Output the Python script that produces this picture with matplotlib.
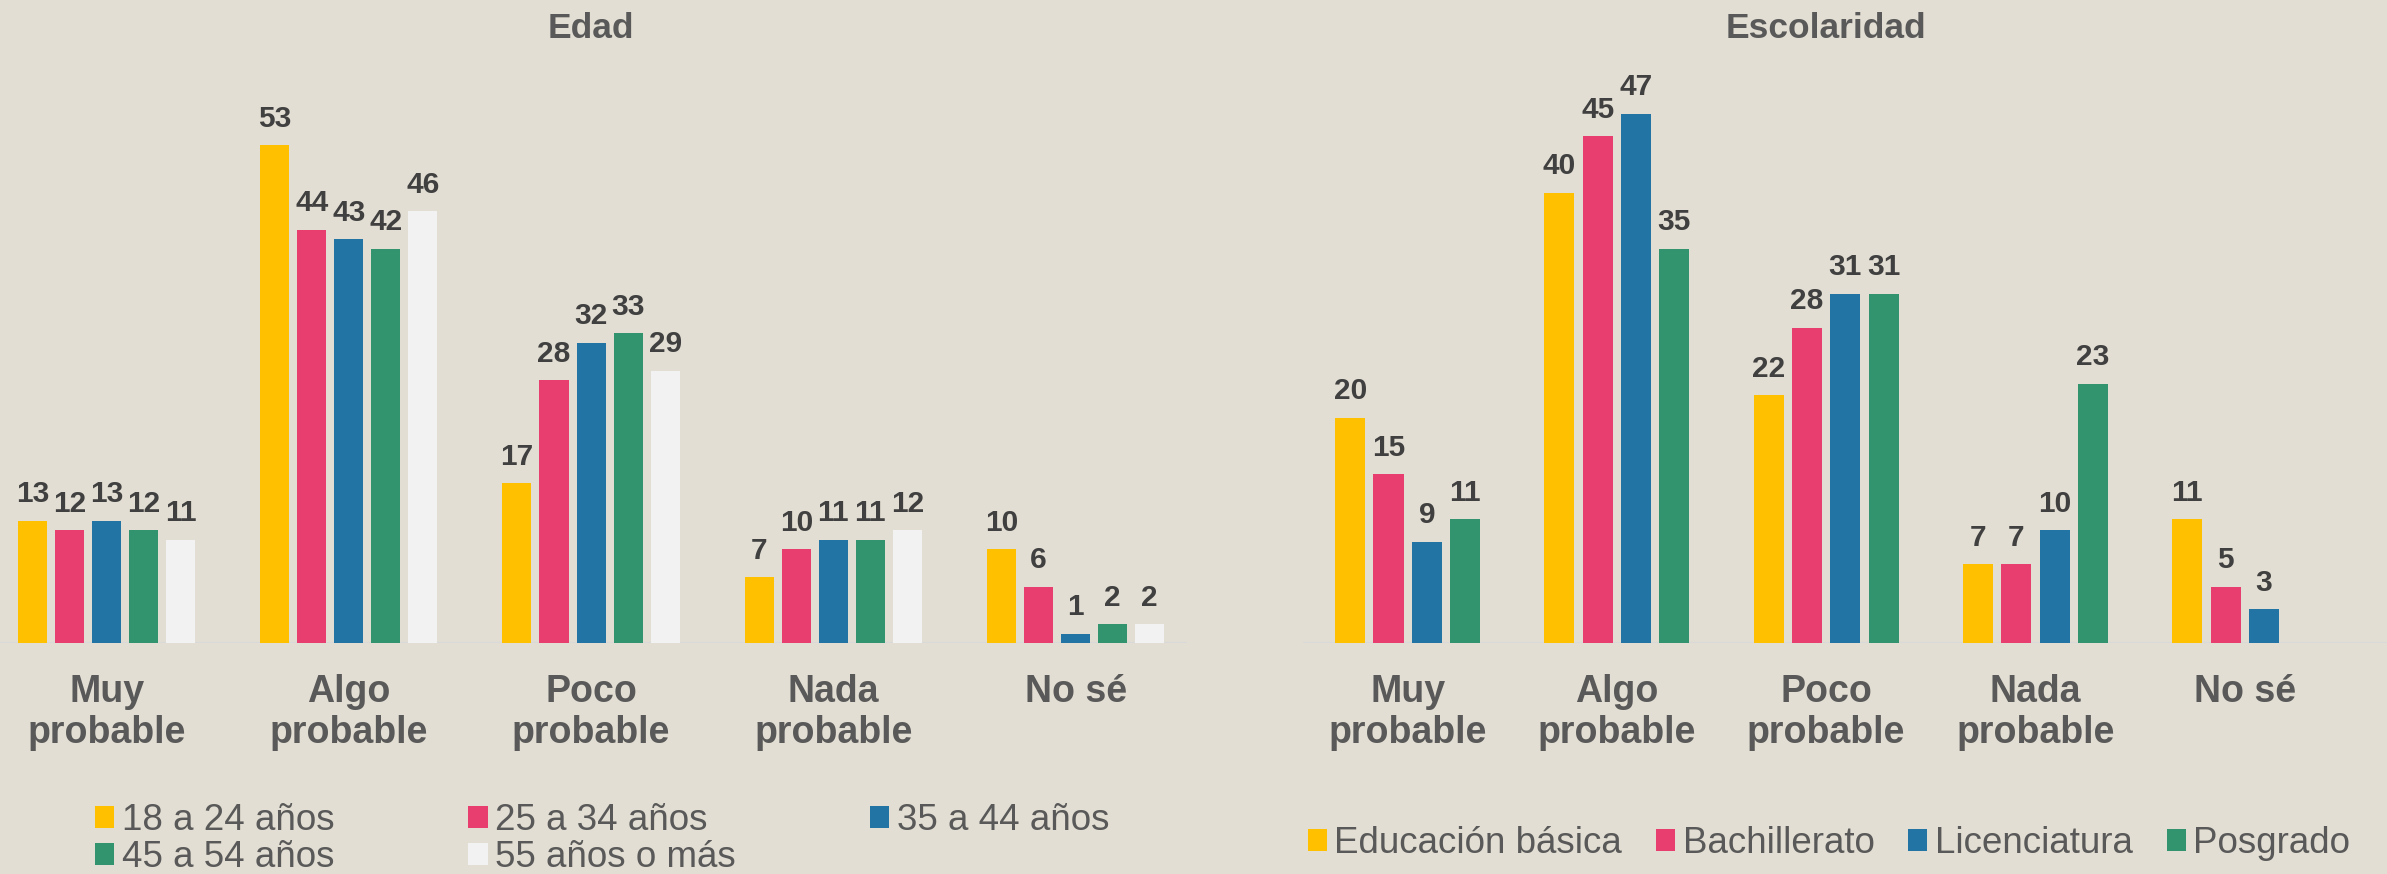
# Edad / Escolaridad - grouped bar charts
import numpy as np
from matplotlib import pyplot as plt

plt.rcParams['font.family'] = ['Liberation Sans', 'DejaVu Sans']

## data ########################################################
categorias = ["Muy\nprobable", "Algo\nprobable", "Poco\nprobable", "Nada\nprobable", "No sé"]

edad_nombres = ["18 a 24 años", "25 a 34 años", "35 a 44 años", "45 a 54 años", "55 años o más"]
edad_18_24 = [13, 53, 17, 7, 10]
edad_25_34 = [12, 44, 28, 10, 6]
edad_35_44 = [13, 43, 32, 11, 1]
edad_45_54 = [12, 42, 33, 11, 2]
edad_55_mas = [11, 46, 29, 12, 2]

esc_nombres = ["Educación básica", "Bachillerato", "Licenciatura", "Posgrado"]
esc_basica = [20, 40, 22, 7, 11]
esc_bachillerato = [15, 45, 28, 7, 5]
esc_licenciatura = [9, 47, 31, 10, 3]
esc_posgrado = [11, 35, 31, 23, 0]
################################################################

bg = '#e3ded3'
colores = ['#ffc000', '#e83d6f', '#2274a5', '#32936f', '#f2f2f2']
gris = '#595959'

W, H = 2387, 874
fig = plt.figure(figsize=(W / 100, H / 100), dpi=100, facecolor=bg)

base_y = 643  # baseline in pixels from top


def panel(ax, series, nombres, width, pitch, ymax, xlim, titulo):
    ax.set_facecolor(bg)
    x = np.arange(len(categorias))
    n = len(series)
    barras = []
    for i, (vals, nombre) in enumerate(zip(series, nombres)):
        pos = x + (i - (n - 1) / 2) * pitch
        b = ax.bar(pos, vals, width, color=colores[i], label=nombre, zorder=2)
        ax.bar_label(b, labels=[str(v) if v else '' for v in vals], padding=9,
                     fontsize=21.5, fontweight='bold', color='#404040')
        barras.append(b)
    ax.axhline(0, color='#d9d9d9', lw=1.6, zorder=1)
    ax.set_ylim(0, ymax)
    ax.set_xlim(*xlim)
    ax.set_xticks(x, categorias, fontsize=27, fontweight='bold', color=gris,
                  linespacing=1.2)
    ax.tick_params(axis='x', length=0, pad=22)
    ax.set_yticks([])
    for s in ax.spines.values():
        s.set_visible(False)
    ax.text(2, 1 - 38 / base_y, titulo, transform=ax.get_xaxis_transform(),
            ha='center', va='baseline', fontsize=25.5, fontweight='bold', color=gris)
    return barras


ax1 = fig.add_axes([0, 1 - base_y / H, 1187 / W, base_y / H])
ax2 = fig.add_axes([1303 / W, 1 - base_y / H, 1084 / W, base_y / H])

b1 = panel(ax1, [edad_18_24, edad_25_34, edad_35_44, edad_45_54, edad_55_mas],
           edad_nombres, 0.12, 0.153, 68.5, (-0.44, 4.46), 'Edad')
b2 = panel(ax2, [esc_basica, esc_bachillerato, esc_licenciatura, esc_posgrado],
           esc_nombres, 0.1435, 0.183, 57.1, (-0.50, 4.68), 'Escolaridad')

# legend order so that rows read left to right
orden = [0, 3, 1, 4, 2]
leg_kw = dict(loc='upper left', frameon=False, borderpad=0, borderaxespad=0,
              handlelength=0.52, handleheight=0.52, handletextpad=0.2,
              labelcolor=gris, prop={'size': 26.5})
fig.legend([b1[i] for i in orden], [edad_nombres[i] for i in orden], ncol=3,
           bbox_to_anchor=(95 / W, 1 - 803 / H), columnspacing=3.65,
           labelspacing=0.06, **leg_kw)
fig.legend(b2, esc_nombres, ncol=4, bbox_to_anchor=(1308 / W, 1 - 826 / H),
           columnspacing=0.92, **leg_kw)

fig.savefig('out.png', dpi=100, facecolor=bg)
